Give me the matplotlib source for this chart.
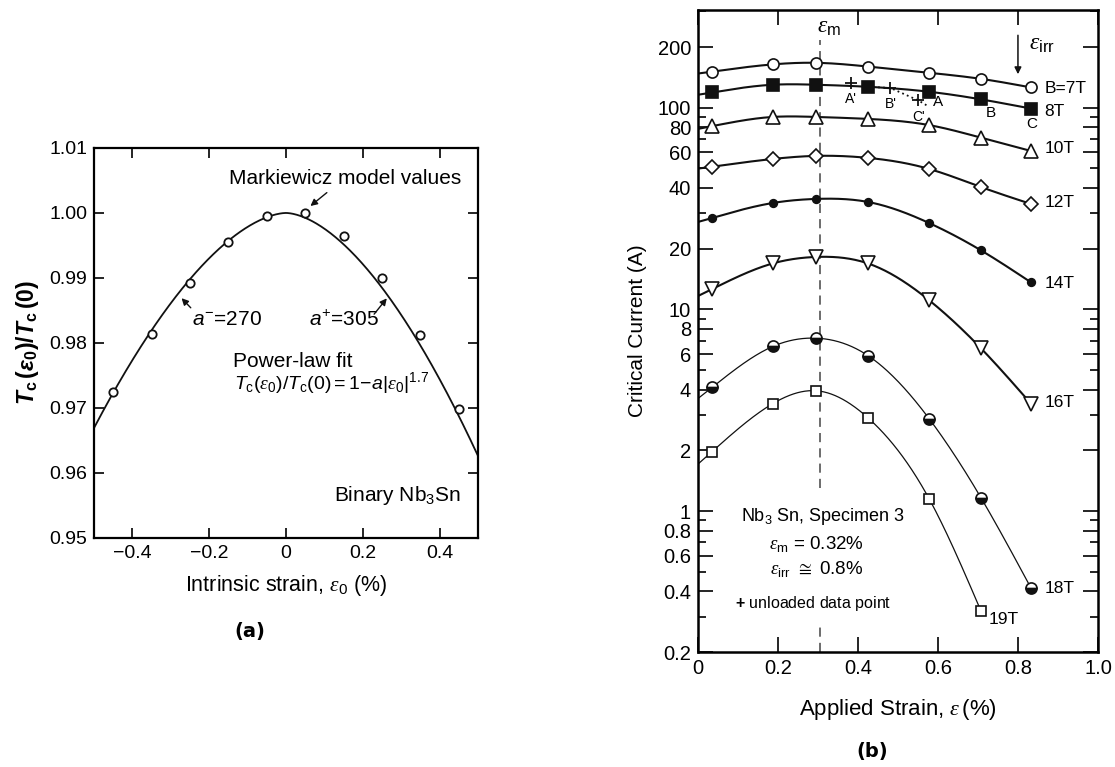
import numpy as np
import matplotlib.pyplot as plt
from matplotlib.ticker import FixedLocator, NullFormatter

plt.rcParams['font.family'] = ['Liberation Sans', 'DejaVu Sans']
plt.rcParams['mathtext.fontset'] = 'custom'
plt.rcParams['mathtext.rm'] = 'Liberation Sans'
plt.rcParams['mathtext.it'] = 'Liberation Sans:italic'
plt.rcParams['mathtext.bf'] = 'Liberation Sans:bold'
plt.rcParams['mathtext.bfit'] = 'Liberation Sans:bold:italic'
plt.rcParams['mathtext.cal'] = 'Liberation Serif:italic'

# Panel (a): Tc ratio vs intrinsic strain
strain_a = [-0.45, -0.35, -0.25, -0.15, -0.05, 0.05, 0.15, 0.25, 0.35, 0.45]
tc_ratio = [0.9724, 0.9814, 0.9893, 0.9956, 0.9995, 1.0000, 0.9965, 0.9900, 0.9812, 0.9698]
a_minus = 270
a_plus = 305
power = 1.7

# Panel (b): critical current vs applied strain
strain_b = [0.035, 0.187, 0.295, 0.425, 0.578, 0.708, 0.833]
ic_7T = [151, 164, 167, 160, 149, 139, 126]
ic_8T = [119, 130, 130, 127, 120, 110, 99]
ic_10T = [81, 90, 90, 88, 82, 71, 61]
ic_12T = [51, 55.7, 57.7, 56.4, 49.7, 40.4, 33.3]
ic_14T = [28.4, 33.7, 35.3, 34.1, 26.8, 19.6, 13.6]
ic_16T = [12.6, 16.9, 18.2, 16.9, 11.1, 6.4, 3.4]
ic_18T = [4.1, 6.55, 7.2, 5.9, 2.87, 1.16, 0.414]
ic_19T = [1.97, 3.41, 3.95, 2.90, 1.15, 0.318]

unloaded_x = [0.383, 0.481, 0.551]
unloaded_y = [132.7, 125.3, 108.7]
unloaded_labels = ["A'", "B'", "C'"]
dotted_x = [0.425, 0.481, 0.551, 0.578]
dotted_y = [127, 125.3, 108.7, 101]


def smooth(x, y, xs):
    # natural cubic spline through the points
    x = np.asarray(x, float); y = np.asarray(y, float)
    n = len(x); h = np.diff(x)
    A = np.zeros((n, n)); r = np.zeros(n)
    A[0, 0] = A[-1, -1] = 1
    for i in range(1, n - 1):
        A[i, i - 1] = h[i - 1]; A[i, i] = 2 * (h[i - 1] + h[i]); A[i, i + 1] = h[i]
        r[i] = 6 * ((y[i + 1] - y[i]) / h[i] - (y[i] - y[i - 1]) / h[i - 1])
    M = np.linalg.solve(A, r)
    k = np.clip(np.searchsorted(x, xs) - 1, 0, n - 2)
    hk = h[k]; t1 = x[k + 1] - xs; t0 = xs - x[k]
    return (M[k] * t1**3 / (6 * hk) + M[k + 1] * t0**3 / (6 * hk)
            + (y[k] / hk - M[k] * hk / 6) * t1 + (y[k + 1] / hk - M[k + 1] * hk / 6) * t0)


fig = plt.figure(figsize=(11.15, 7.67), dpi=100)

# ---------------- panel (a)
ax1 = fig.add_axes([0.0843, 0.2986, 0.3444, 0.5085])
eps = np.linspace(-0.5, 0.5, 400)
coef = np.where(eps < 0, a_minus, a_plus)
ax1.plot(eps, 1 - coef * (np.abs(eps) / 100) ** power, color='#111111', lw=1.3)
ax1.plot(strain_a, tc_ratio, 'o', ms=6, mfc='white', mec='#111111', mew=1.3)
ax1.set_xlim(-0.5, 0.5)
ax1.set_ylim(0.95, 1.01)
ax1.set_xticks([-0.4, -0.2, 0, 0.2, 0.4])
ax1.set_xticklabels(['\u22120.4', '\u22120.2', '0', '0.2', '0.4'])
ax1.set_yticks([0.95, 0.96, 0.97, 0.98, 0.99, 1.00, 1.01])
ax1.set_yticklabels(['0.95', '0.96', '0.97', '0.98', '0.99', '1.00', '1.01'])
ax1.tick_params(direction='in', length=7, width=1.2, top=True, right=True, labelsize=14, pad=5)
for s in ax1.spines.values():
    s.set_linewidth(1.6)
ax1.set_xlabel(r'Intrinsic strain, $\mathcal{\varepsilon}_0$ (%)', fontsize=15.5, labelpad=8)
ax1.set_ylabel(r'$\mathbfit{T}_{\mathbf{c}}\,\mathbf{(}\mathbfit{\varepsilon}_{\mathbf{0}}\mathbf{)/}\mathbfit{T}_{\mathbf{c}}\,\mathbf{(0)}$',
               fontsize=16.5, labelpad=6)

ax1.text(0.153, 1.0053, 'Markiewicz model values', fontsize=15, ha='center', va='center')
ax1.annotate('', xy=(0.058, 1.0008), xytext=(0.112, 1.0034),
             arrowprops=dict(arrowstyle='-|>', color='#111111', lw=1, mutation_scale=10))
ax1.text(-0.245, 0.9836, r'$a^{-}$=270', fontsize=15, ha='left', va='center')
ax1.annotate('', xy=(-0.277, 0.9872), xytext=(-0.243, 0.9851),
             arrowprops=dict(arrowstyle='-|>', color='#111111', lw=1, mutation_scale=10))
ax1.text(0.06, 0.9836, r'$a^{+}$=305', fontsize=15, ha='left', va='center')
ax1.annotate('', xy=(0.267, 0.9872), xytext=(0.225, 0.9841),
             arrowprops=dict(arrowstyle='-|>', color='#111111', lw=1, mutation_scale=10))
ax1.text(0.018, 0.9771, 'Power-law fit', fontsize=15, ha='center', va='center')
ax1.text(0.118, 0.9739, r'$T_\mathrm{c}(\mathcal{\varepsilon}_0)/T_\mathrm{c}(0) = 1\!-\!a|\mathcal{\varepsilon}_0|^{1.7}$',
         fontsize=14, ha='center', va='center')
ax1.text(0.455, 0.9565, r'Binary Nb$_3$Sn', fontsize=15, ha='right', va='center')
fig.text(250 / 1115, 1 - 632 / 767, '(a)', fontsize=14, fontweight='bold',
         family='DejaVu Sans', ha='center', va='center')

# ---------------- panel (b)
ax2 = fig.add_axes([0.626, 0.1499, 0.3587, 0.837])
ax2.set_yscale('log')
ax2.set_xlim(0, 1.0)
ax2.set_ylim(0.2, 305)

series = [
    (ic_7T, dict(marker='o', ms=8, mfc='white'), 1.5),
    (ic_8T, dict(marker='s', ms=8.5, mfc='#111111'), 1.5),
    (ic_10T, dict(marker='^', ms=9.5, mfc='white'), 1.5),
    (ic_12T, dict(marker='D', ms=7.5, mfc='white'), 1.5),
    (ic_14T, dict(marker='o', ms=5.5, mfc='#111111'), 1.5),
    (ic_16T, dict(marker='v', ms=9.5, mfc='white'), 1.5),
    (ic_18T, dict(marker='o', ms=8, mfc='#111111', fillstyle='bottom', markerfacecoloralt='white'), 0.9),
    (ic_19T, dict(marker='s', ms=7.5, mfc='white'), 0.9),
]
for vals, mk, lw in series:
    xv = strain_b[:len(vals)]
    xs = np.linspace(0, xv[-1], 300)
    ax2.plot(xs, 10 ** smooth(xv, np.log10(vals), xs), color='#111111', lw=lw, zorder=2)
    ax2.plot(xv, vals, linestyle='none', mec='#111111', mew=1.2, zorder=3, **mk)

ax2.plot(dotted_x, dotted_y, linestyle=(0, (1, 1.8)), color='#111111', lw=1.3, zorder=2)
ax2.plot(unloaded_x, unloaded_y, '+', ms=9, mew=1.3, color='#111111', zorder=4)
for xv, yv, lab in zip(unloaded_x, unloaded_y, unloaded_labels):
    ax2.text(xv, yv * 0.83, lab, fontsize=10, ha='center', va='center')
ax2.text(0.601, 107, 'A', fontsize=11, ha='center', va='center')
ax2.text(0.733, 94.4, 'B', fontsize=11, ha='center', va='center')
ax2.text(0.835, 83.3, 'C', fontsize=11, ha='center', va='center')

for lab, yv in [('B=7T', 124), ('8T', 96), ('10T', 63), ('12T', 34),
                ('14T', 13.4), ('16T', 3.45), ('18T', 0.414)]:
    ax2.text(0.866, yv, lab, fontsize=12.5, ha='left', va='center')
ax2.text(0.727, 0.29, '19T', fontsize=12.5, ha='left', va='center')

# epsilon_m dashed line, broken behind the text block
ax2.axvline(0.305, ymin=0.2555, ymax=0.953, color='#444444', lw=1.1, ls=(0, (6, 4)), zorder=1)
ax2.axvline(0.305, ymin=0.0, ymax=0.0467, color='#444444', lw=1.1, ls=(0, (6, 4)), zorder=1)
ax2.text(0.297, 252, r'$\mathcal{\varepsilon}_\mathrm{m}$', fontsize=17, ha='left', va='center')
ax2.text(0.827, 206, r'$\mathcal{\varepsilon}_\mathrm{irr}$', fontsize=17, ha='left', va='center')
ax2.annotate('', xy=(0.80, 142), xytext=(0.80, 236),
             arrowprops=dict(arrowstyle='-|>', color='#111111', lw=1.1, mutation_scale=10))

ax2.text(0.312, 0.944, r'Nb$_3$ Sn, Specimen 3', fontsize=13, ha='center', va='center')
ax2.text(0.297, 0.685, r'$\mathcal{\varepsilon}_\mathrm{m}$ = 0.32%', fontsize=13.5, ha='center', va='center')
ax2.text(0.297, 0.515, r'$\mathcal{\varepsilon}_\mathrm{irr}$ $\cong$ 0.8%', fontsize=13.5, ha='center', va='center')
ax2.text(0.287, 0.349, r'$\mathbf{+}$ unloaded data point', fontsize=11.5, ha='center', va='center')

major_y = [0.2, 0.4, 0.6, 0.8, 1, 2, 4, 6, 8, 10, 20, 40, 60, 80, 100, 200]
minor_y = [0.3, 0.5, 0.7, 0.9, 3, 5, 7, 9, 30, 50, 70, 90, 300]
ax2.yaxis.set_major_locator(FixedLocator(major_y))
ax2.yaxis.set_minor_locator(FixedLocator(minor_y))
ax2.set_yticklabels(['0.2', '0.4', '0.6', '0.8', '1', '2', '4', '6', '8', '10',
                     '20', '40', '60', '80', '100', '200'])
ax2.yaxis.set_minor_formatter(NullFormatter())
ax2.set_xticks([0, 0.2, 0.4, 0.6, 0.8, 1.0])
ax2.set_xticklabels(['0', '0.2', '0.4', '0.6', '0.8', '1.0'])
ax2.tick_params(which='major', direction='in', length=11, width=1.2, top=True, right=True,
                labelsize=14.5, pad=5)
ax2.tick_params(which='minor', direction='in', length=6, width=1.2, top=True, right=True)
for s in ax2.spines.values():
    s.set_linewidth(1.8)
ax2.set_ylabel('Critical Current (A)', fontsize=15, labelpad=8)
ax2.set_xlabel(r'Applied Strain, $\mathcal{\varepsilon}\,$(%)', fontsize=16, labelpad=14)
fig.text(872 / 1115, 1 - 752 / 767, '(b)', fontsize=14, fontweight='bold',
         family='DejaVu Sans', ha='center', va='center')

fig.savefig('out.png', dpi=100)
